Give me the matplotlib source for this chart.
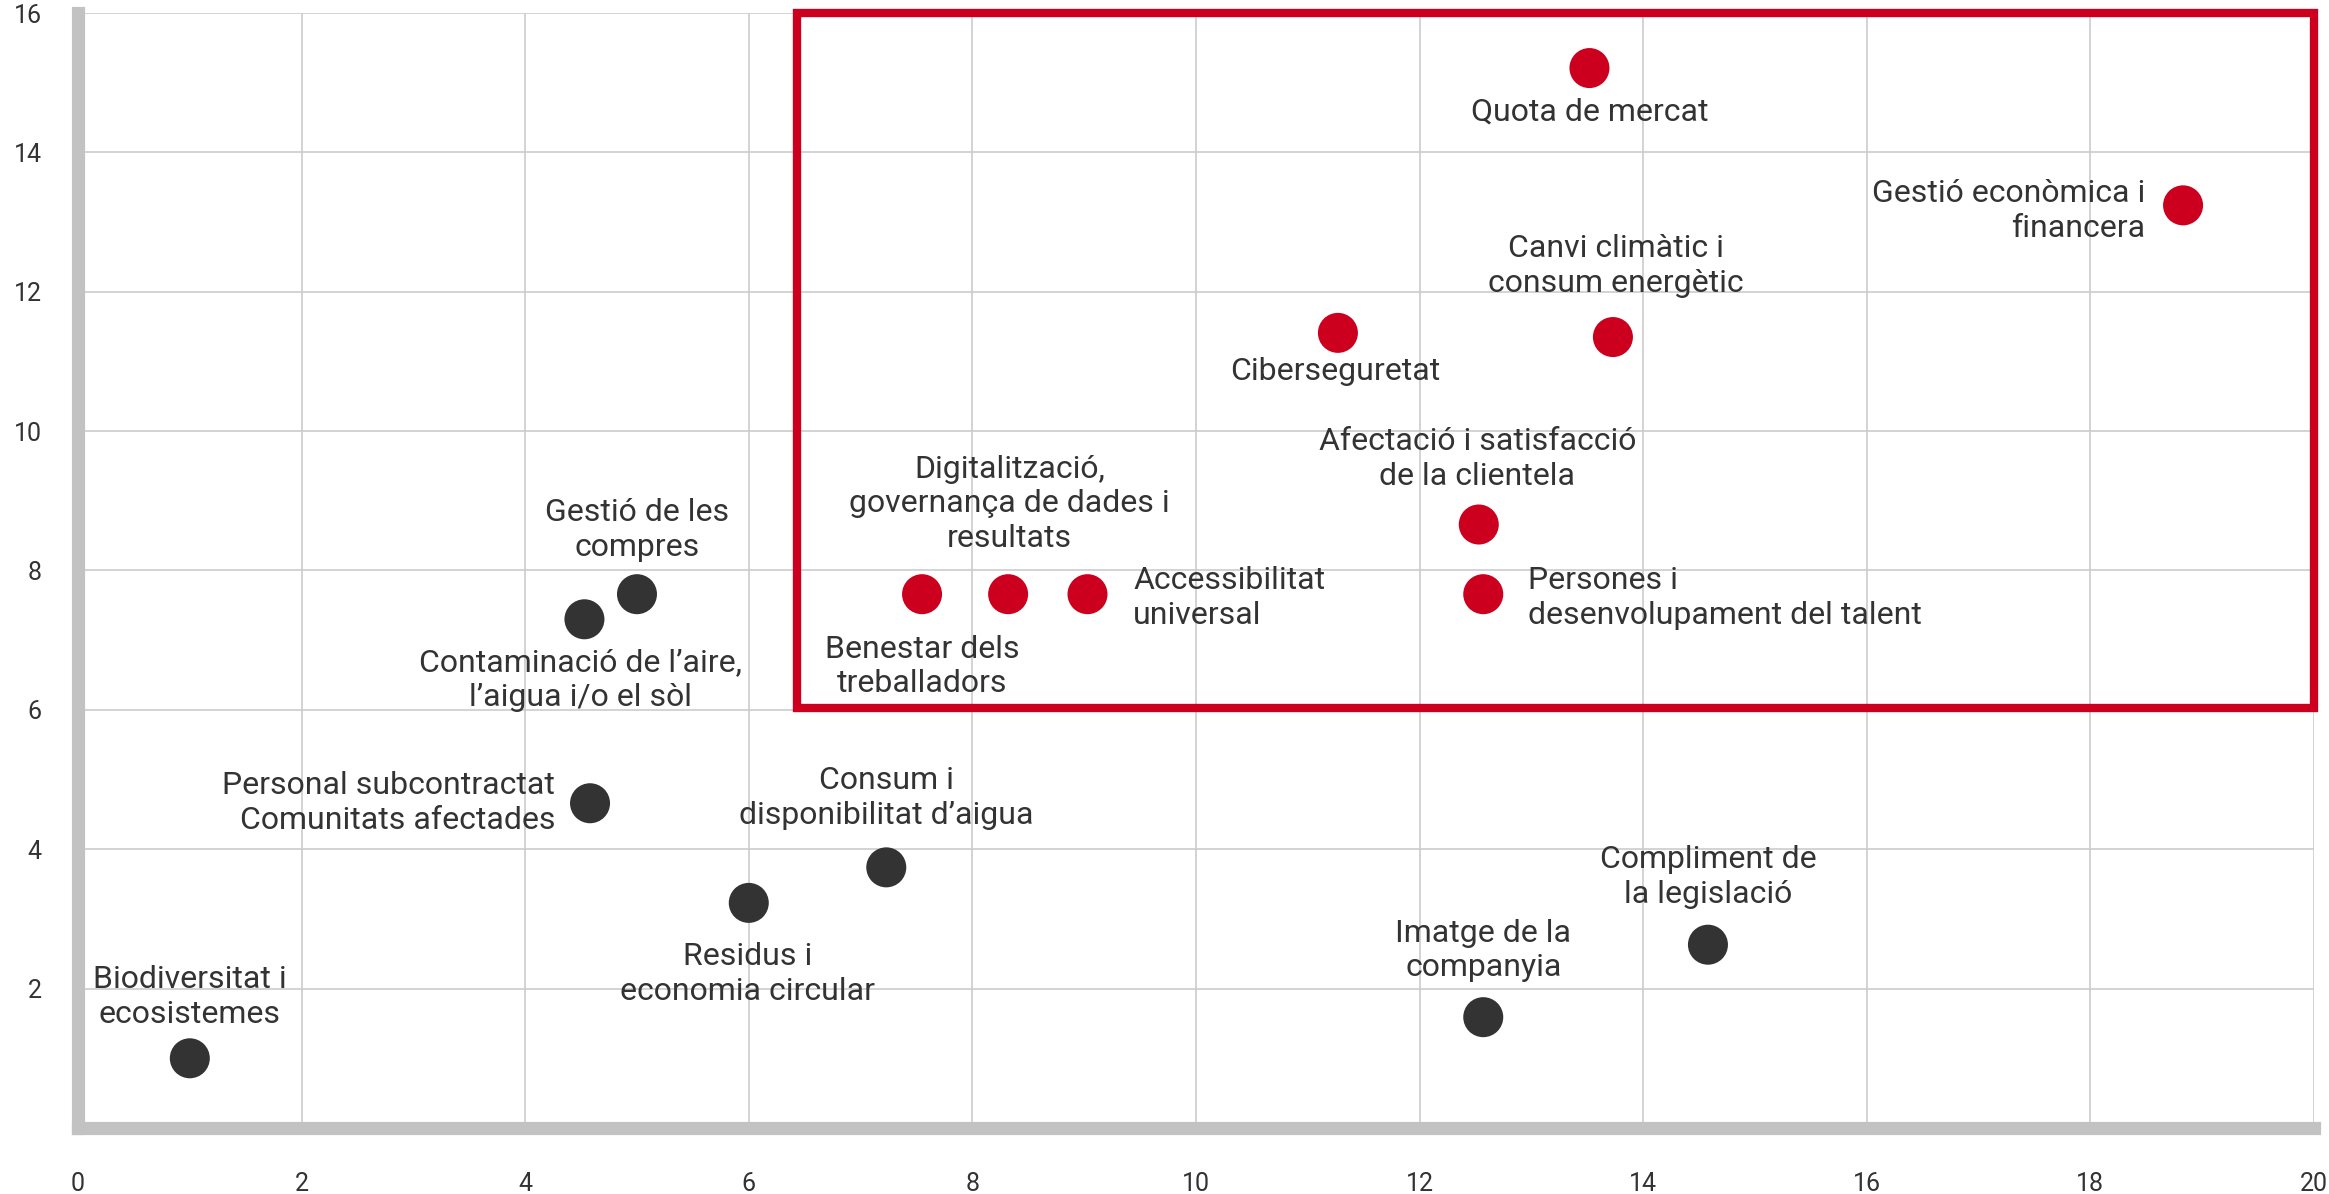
import matplotlib
matplotlib.use('Agg')
import matplotlib.pyplot as plt
from matplotlib.patches import Rectangle

plt.rcParams['font.family'] = ['Roboto', 'DejaVu Sans']

RED = '#cc001e'
DARK = '#333333'
GRID = '#cccccc'
SPINE = '#c2c2c2'

# topics, positions and label placement
labels = [
    'Biodiversitat i\necosistemes',
    'Gestió de les\ncompres',
    'Contaminació de l’aire,\nl’aigua i/o el sòl',
    'Personal subcontractat\nComunitats afectades',
    'Residus i\neconomia circular',
    'Consum i\ndisponibilitat d’aigua',
    'Imatge de la\ncompanyia',
    'Compliment de\nla legislació',
    'Benestar dels\ntreballadors',
    'Digitalització,\ngovernança de dades i\nresultats',
    'Accessibilitat\nuniversal',
    'Afectació i satisfacció\nde la clientela',
    'Persones i\ndesenvolupament del talent',
    'Ciberseguretat',
    'Canvi climàtic i\nconsum energètic',
    'Quota de mercat',
    'Gestió econòmica i\nfinancera',
]
x_vals = [1.0, 5.0, 4.53, 4.58, 6.0, 7.23, 12.57, 14.58,
          7.55, 8.32, 9.03, 12.53, 12.57, 11.27, 13.73, 13.52, 18.83]
y_vals = [1.0, 7.66, 7.3, 4.66, 3.23, 3.74, 1.59, 2.63,
          7.66, 7.66, 7.66, 8.66, 7.66, 11.41, 11.35, 15.21, 13.24]
material = [False] * 8 + [True] * 9

# (dx, dy, ha) offsets in points
offsets = [
    (0, 44, 'center'), (0, 46, 'center'), (-3, -44, 'center'), (-25, 0, 'right'),
    (-1, -51, 'center'), (0, 50, 'center'), (0, 48, 'center'), (0, 49, 'center'),
    (0, -52, 'center'), (1, 65, 'center'), (33, -3, 'left'), (-1, 47, 'center'),
    (32, -3, 'left'), (-2, -28, 'center'), (2, 51, 'center'), (0, -32, 'center'),
    (-27, -4, 'right'),
]

fig = plt.figure(figsize=(23.29, 11.94), dpi=100)
ax = fig.add_axes([0.0335, 0.0553, 0.96, 0.9338])
ax.set_xlim(0, 20)
ax.set_ylim(0, 16)
ax.set_xticks(range(0, 21, 2))
ax.set_yticks(range(2, 17, 2))
ax.grid(True, color=GRID, linewidth=1.2)
ax.set_axisbelow(True)

for s in ['top', 'right']:
    ax.spines[s].set_visible(False)
for s in ['left', 'bottom']:
    ax.spines[s].set_color(SPINE)
    ax.spines[s].set_linewidth(9.5)
ax.tick_params(length=0, labelsize=18, colors=DARK)
ax.tick_params(axis='y', pad=26)
ax.tick_params(axis='x', pad=32)

colors = [RED if m else DARK for m in material]
ax.scatter(x_vals, y_vals, s=830, c=colors, linewidths=0, zorder=3)

for lab, x, y, (dx, dy, ha) in zip(labels, x_vals, y_vals, offsets):
    ax.annotate(lab, (x, y), xytext=(dx, dy), textcoords='offset points',
                ha=ha, va='center', fontsize=23, color=DARK,
                multialignment=ha, linespacing=1.25)

rect = Rectangle((6.43, 6.03), 20 - 6.43, 16 - 6.03, fill=False,
                 edgecolor=RED, linewidth=6, clip_on=False, zorder=4)
ax.add_patch(rect)

fig.savefig('out.png', dpi=100)
